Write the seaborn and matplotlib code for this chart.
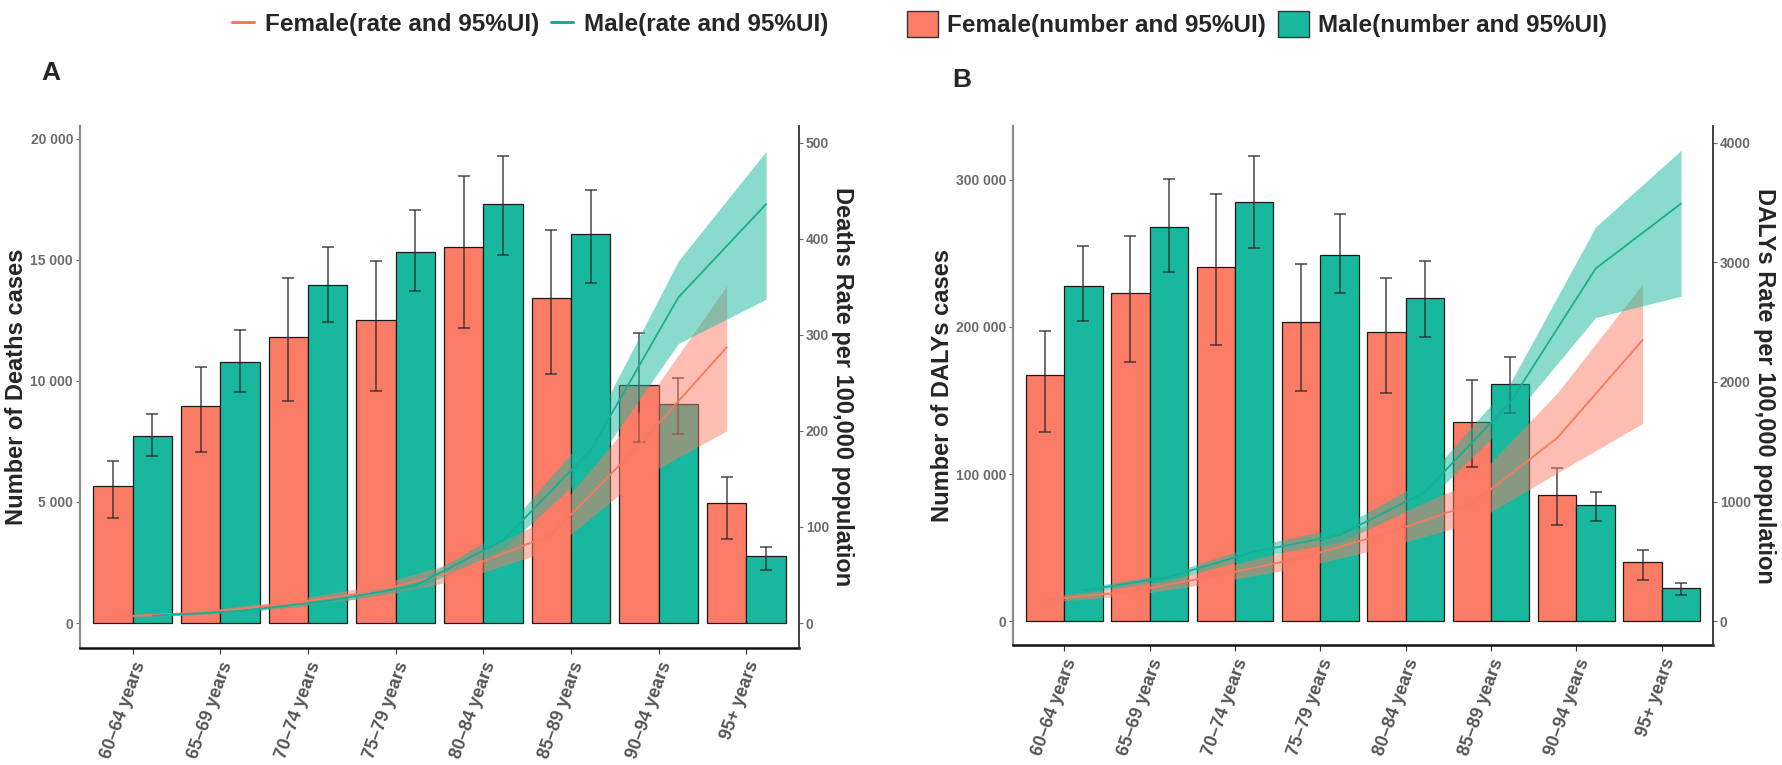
import numpy as np
import pandas as pd
import matplotlib
matplotlib.use("Agg")
import matplotlib.pyplot as plt
from matplotlib.ticker import FuncFormatter
from matplotlib.lines import Line2D
from matplotlib.patches import Patch
import seaborn as sns

sns.set_style("white")
plt.rcParams['font.family'] = ['Liberation Sans', 'DejaVu Sans']

CORAL = '#FA7C67'
TEAL = '#17B89D'
LINE_F = '#F8795F'
LINE_M = '#15AF95'

ages = ['60–64 years', '65–69 years', '70–74 years', '75–79 years',
        '80–84 years', '85–89 years', '90–94 years', '95+ years']

# Panel A: deaths (numbers)
deaths_f = [5670, 8970, 11830, 12500, 15540, 13440, 9840, 4950]
deaths_f_lo = [4330, 7060, 9190, 9600, 12170, 10290, 7470, 3470]
deaths_f_hi = [6710, 10560, 14240, 14950, 18470, 16250, 11990, 6030]
deaths_m = [7740, 10770, 13960, 15320, 17300, 16070, 9070, 2780]
deaths_m_lo = [6890, 9530, 12420, 13710, 15200, 14070, 7790, 2170]
deaths_m_hi = [8640, 12120, 15540, 17060, 19300, 17900, 10120, 3160]

# Panel A: deaths rate per 100,000
drate_f = [6.5, 10.7, 20, 33, 56, 92, 185, 287]
drate_f_lo = [5.5, 9, 17, 27, 46, 76, 150, 200]
drate_f_hi = [7.5, 12.5, 23.5, 39, 66, 110, 220, 351]
drate_m = [7.5, 12.5, 23, 39, 86, 180, 339, 436]
drate_m_lo = [6.5, 11, 20.5, 35, 77, 160, 291, 337]
drate_m_hi = [8.5, 14, 25.5, 43, 95, 200, 377, 491]

# Panel B: DALYs (numbers)
dalys_f = [167300, 222900, 241000, 203200, 196800, 135400, 85900, 40500]
dalys_f_lo = [128800, 176000, 187800, 156700, 155300, 104500, 65500, 28100]
dalys_f_hi = [197500, 261500, 290100, 242400, 233100, 163600, 104300, 48700]
dalys_m = [228100, 267600, 284600, 249000, 219300, 161200, 79100, 22400]
dalys_m_lo = [204300, 237200, 253500, 222900, 193400, 141400, 67900, 17700]
dalys_m_hi = [254900, 300200, 316300, 276900, 244700, 179400, 87800, 25800]

# Panel B: DALYs rate per 100,000
yrate_f = [180, 248, 380, 530, 735, 979, 1532, 2350]
yrate_f_lo = [160, 215, 325, 450, 620, 820, 1240, 1653]
yrate_f_hi = [205, 285, 440, 615, 860, 1160, 1908, 2817]
yrate_m = [257, 370, 582, 720, 1080, 1830, 2947, 3490]
yrate_m_lo = [235, 340, 535, 660, 990, 1680, 2538, 2716]
yrate_m_hi = [280, 400, 630, 780, 1180, 1990, 3295, 3935]


def space_thousands(v, pos):
    return f"{int(v):,}".replace(",", " ")


def draw_panel(ax, num_f, num_f_lo, num_f_hi, num_m, num_m_lo, num_m_hi,
               rate_f, rate_f_lo, rate_f_hi, rate_m, rate_m_lo, rate_m_hi,
               factor, ylim, left_ticks, right_ticks, ylabel, y2label,
               ylabel_x, y2label_x):
    df = pd.DataFrame({
        'age': ages * 2,
        'sex': ['Female'] * 8 + ['Male'] * 8,
        'value': num_f + num_m,
    })
    sns.barplot(data=df, x='age', y='value', hue='sex',
                palette={'Female': CORAL, 'Male': TEAL}, saturation=1,
                width=0.9, edgecolor='#1a1a1a', linewidth=0.9,
                errorbar=None, legend=False, ax=ax)

    # error bars at the centre of each seaborn bar
    centers = {}
    for cont, sex, v, lo, hi in zip(ax.containers, ['Female', 'Male'],
                                    [num_f, num_m], [num_f_lo, num_m_lo],
                                    [num_f_hi, num_m_hi]):
        xs = np.array([p.get_x() + p.get_width() / 2 for p in cont])
        centers[sex] = xs
        v, lo, hi = np.array(v), np.array(lo), np.array(hi)
        ax.errorbar(xs, v, yerr=[v - lo, hi - v], fmt='none', ecolor='#2a2a2a',
                    elinewidth=1.1, capsize=4, capthick=1.1, alpha=0.85)

    # rates on a secondary axis
    ax2 = ax.twinx()
    for sex, r, lo, hi, col, fill in [('Female', rate_f, rate_f_lo, rate_f_hi, LINE_F, CORAL),
                                       ('Male', rate_m, rate_m_lo, rate_m_hi, LINE_M, TEAL)]:
        ax2.fill_between(centers[sex], lo, hi, color=fill, alpha=0.5, linewidth=0)
        sns.lineplot(x=centers[sex], y=r, color=col, linewidth=1.3, ax=ax2)

    ax.set_xlim(-0.6, 7.6)
    ax.set_ylim(*ylim)
    ax2.set_ylim(ylim[0] / factor, ylim[1] / factor)
    ax.set_yticks(left_ticks)
    ax2.set_yticks(right_ticks)
    ax.yaxis.set_major_formatter(FuncFormatter(space_thousands))

    ax.set_xlabel('')
    ax.set_ylabel(ylabel, fontsize=17, fontweight='bold')
    ax.yaxis.set_label_coords(ylabel_x, 0.5)
    ax.yaxis.label.set_va('center')
    ax2.set_ylabel(y2label, fontsize=17, fontweight='bold', rotation=270)
    ax2.yaxis.set_label_coords(y2label_x, 0.5)
    ax2.yaxis.label.set_va('center')
    ax2.yaxis.label.set_ha('center')

    ax.set_xticks(range(len(ages)))
    ax.set_xticklabels(ages, rotation=70, ha='right', rotation_mode='anchor',
                       fontsize=13, fontweight='bold', color='#555555')
    for lab in ax.get_yticklabels() + ax2.get_yticklabels():
        lab.set_fontweight('bold')
    ax.tick_params(axis='y', labelsize=10, colors='#6b6b6b', length=3, width=0.8, direction='out', left=True, pad=2)
    ax.tick_params(axis='x', length=4, width=0.8, color='#333333', direction='out', bottom=True, pad=4)
    ax2.tick_params(axis='y', labelsize=10, colors='#6b6b6b', length=3, width=0.8, direction='out', right=True, pad=2)

    for a in (ax, ax2):
        a.spines['top'].set_visible(False)
        a.grid(False)
    ax.spines['right'].set_visible(False)
    ax.spines['left'].set_color('#8c8c8c')
    ax.spines['left'].set_linewidth(1.6)
    ax.spines['bottom'].set_color('#111111')
    ax.spines['bottom'].set_linewidth(1.8)
    ax2.spines['left'].set_visible(False)
    ax2.spines['bottom'].set_visible(False)
    ax2.spines['right'].set_color('#333333')
    ax2.spines['right'].set_linewidth(1.3)
    return ax2


fig = plt.figure(figsize=(17.83, 7.65), dpi=100)
axA = fig.add_axes([80 / 1783, 1 - 648 / 765, 719 / 1783, 522 / 765])
axB = fig.add_axes([1013 / 1783, 1 - 645 / 765, 700 / 1783, 519 / 765])

draw_panel(axA, deaths_f, deaths_f_lo, deaths_f_hi, deaths_m, deaths_m_lo, deaths_m_hi,
           drate_f, drate_f_lo, drate_f_hi, drate_m, drate_m_lo, drate_m_hi,
           factor=39.7, ylim=(-1033, 20537),
           left_ticks=[0, 5000, 10000, 15000, 20000],
           right_ticks=[0, 100, 200, 300, 400, 500],
           ylabel='Number of Deaths cases',
           y2label='Deaths Rate per 100,000 population',
           ylabel_x=-0.088, y2label_x=1.061)

draw_panel(axB, dalys_f, dalys_f_lo, dalys_f_hi, dalys_m, dalys_m_lo, dalys_m_hi,
           yrate_f, yrate_f_lo, yrate_f_hi, yrate_m, yrate_m_lo, yrate_m_hi,
           factor=81.3, ylim=(-16090, 336455),
           left_ticks=[0, 100000, 200000, 300000],
           right_ticks=[0, 1000, 2000, 3000, 4000],
           ylabel='Number of DALYs cases',
           y2label='DALYs Rate per 100,000 population',
           ylabel_x=-0.100, y2label_x=1.073)

fig.text(51 / 1783, 1 - 73 / 765, 'A', fontsize=19, fontweight='bold', ha='center', va='center')
fig.text(962 / 1783, 1 - 80 / 765, 'B', fontsize=19, fontweight='bold', ha='center', va='center')

# two legends side by side, like the colour and fill guides
line_handles = [Line2D([0], [0], color=LINE_F, linewidth=2.2),
                Line2D([0], [0], color=LINE_M, linewidth=2.2)]
box_handles = [Patch(facecolor=CORAL, edgecolor='#333333', linewidth=1),
               Patch(facecolor=TEAL, edgecolor='#333333', linewidth=1)]
leg_font = {'weight': 'bold', 'size': 17.5}
fig.legend(line_handles, ['Female(rate and 95%UI)', 'Male(rate and 95%UI)'],
           loc='center left', bbox_to_anchor=(220 / 1783, 1 - 24 / 765),
           ncol=2, frameon=False, prop=leg_font, borderpad=0,
           handlelength=0.9, handletextpad=0.45, columnspacing=0.5)
fig.legend(box_handles, ['Female(number and 95%UI)', 'Male(number and 95%UI)'],
           loc='center left', bbox_to_anchor=(895 / 1783, 1 - 24 / 765),
           ncol=2, frameon=False, prop=leg_font, borderpad=0,
           handlelength=1.25, handleheight=1.25, handletextpad=0.4, columnspacing=0.5)

fig.savefig('out.png', dpi=100)
